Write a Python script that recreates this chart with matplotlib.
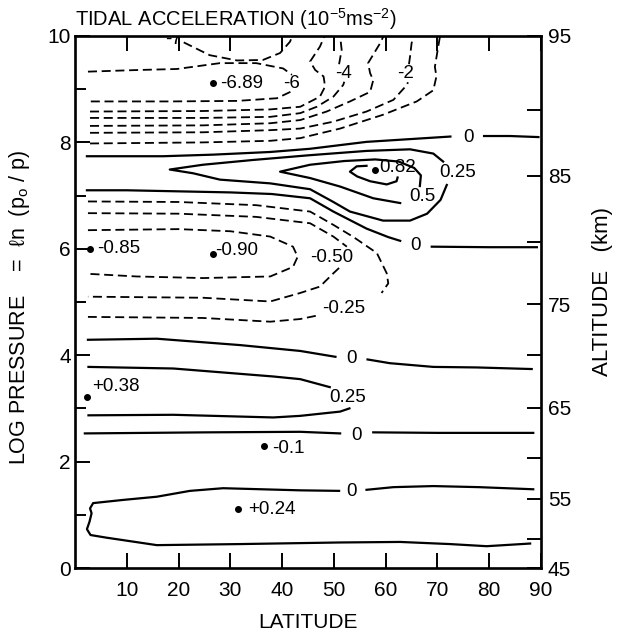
import matplotlib
matplotlib.use("Agg")
import matplotlib.pyplot as plt

plt.rcParams['font.family'] = ['Liberation Sans', 'DejaVu Sans']
plt.rcParams['mathtext.default'] = 'regular'

# contour lines: (latitude, log pressure), split where a label cuts them
# negative values (dashed)
m7_lat = [21.0, 26.0, 31.3, 36.3, 39.6, 41.5, 42.0]
m7_p = [9.88, 9.64, 9.54, 9.55, 9.68, 9.89, 10.0]

m6a_lat = [2.5, 11.9, 19.7, 28.0, 35.0, 40.2, 41.9]
m6a_p = [9.33, 9.36, 9.38, 9.49, 9.49, 9.39, 9.27]
m6b_lat = [41.6, 39.0, 31.3, 18.3, 2.9]
m6b_p = [8.95, 8.83, 8.78, 8.77, 8.77]

m5_lat = [2.9, 24.7, 37.7, 43.5, 47.3, 48.3, 48.0, 46.4, 45.4, 47.3, 48.2]
m5_p = [8.58, 8.59, 8.62, 8.67, 8.86, 9.05, 9.24, 9.36, 9.52, 9.80, 10.0]

m4a_lat = [2.9, 24.7, 37.7, 43.5, 46.7, 49.9, 51.8, 52.0]
m4a_p = [8.46, 8.46, 8.48, 8.55, 8.67, 8.86, 9.08, 9.14]
m4b_lat = [51.0, 51.5, 51.2]
m4b_p = [9.47, 9.74, 10.0]

m3_lat = [2.9, 24.7, 37.7, 43.5, 48.6, 53.1, 57.0, 57.6, 57.0, 56.6, 58.9, 59.6]
m3_p = [8.31, 8.32, 8.36, 8.42, 8.58, 8.77, 8.95, 9.17, 9.30, 9.49, 9.86, 10.0]

m2a_lat = [2.9, 24.7, 37.7, 43.5, 49.9, 56.3, 61.5, 64.1, 64.3]
m2a_p = [8.18, 8.19, 8.23, 8.26, 8.39, 8.58, 8.80, 9.08, 9.13]
m2b_lat = [64.5, 64.7, 65.0, 65.3]
m2b_p = [9.47, 9.61, 9.86, 10.0]

m1_lat = [2.9, 24.7, 37.7, 43.5, 51.2, 59.5, 66.0, 69.2, 69.8, 69.5, 70.2, 70.5]
m1_p = [7.98, 8.00, 8.03, 8.08, 8.26, 8.52, 8.77, 8.98, 9.24, 9.42, 9.83, 10.0]

m025a_lat = [2.5, 20.0, 35.0, 45.4, 49.9, 53.8, 58.3, 60.2, 60.5, 59.2]
m025a_p = [6.89, 6.88, 6.82, 6.70, 6.45, 6.22, 5.92, 5.54, 5.35, 5.17]
m025b_lat = [46.5, 43.5, 37.7, 24.7, 2.5]
m025b_p = [4.74, 4.68, 4.63, 4.70, 4.72]

m050a_lat = [2.5, 20.0, 35.0, 45.4, 49.9, 52.5]
m050a_p = [6.67, 6.66, 6.60, 6.48, 6.23, 6.04]
m050b_lat = [51.0, 49.9, 47.3, 43.5, 37.7, 24.7, 2.5]
m050b_p = [5.64, 5.54, 5.29, 5.17, 5.01, 5.08, 5.10]

m075_lat = [2.5, 20.0, 30.0, 37.7, 42.1, 43.0, 42.1, 37.7, 24.7, 11.9, 2.5]
m075_p = [6.35, 6.37, 6.33, 6.23, 6.04, 5.85, 5.66, 5.48, 5.45, 5.48, 5.53]

# zero and positive values (solid)
z8a_lat = [2.3, 17.0, 26.7, 37.7, 45.4, 56.3, 72.5]
z8a_p = [7.74, 7.74, 7.77, 7.82, 7.88, 8.01, 8.11]
z8b_lat = [79.0, 84.0, 89.5]
z8b_p = [8.12, 8.12, 8.10]

p025u_lat = [71.1, 69.2, 64.7, 56.3, 45.4, 34.4, 24.7, 18.3, 22.8, 28.0, 37.7, 45.4,
             49.9, 53.1, 59.5, 64.7, 68.0, 70.6, 71.8]
p025u_p = [7.64, 7.79, 7.87, 7.84, 7.76, 7.67, 7.58, 7.49, 7.42, 7.30, 7.23, 7.12,
           6.88, 6.70, 6.53, 6.53, 6.66, 6.92, 7.20]

p050a_lat = [66.6, 66.8, 65.5, 62.5, 58.0, 52.0, 45.4, 39.6, 45.4, 51.2, 57.6, 62.8]
p050a_p = [7.18, 7.38, 7.52, 7.64, 7.68, 7.65, 7.58, 7.45, 7.33, 7.17, 6.95, 6.86]

p075_lat = [56.3, 54.4, 53.1, 54.5, 57.0, 60.2, 62.1, 62.3]
p075_p = [7.56, 7.55, 7.45, 7.36, 7.27, 7.21, 7.27, 7.34]

z7a_lat = [2.3, 10.0, 20.0, 30.0, 38.0, 45.4, 49.9, 56.3, 60.5, 62.8]
z7a_p = [7.10, 7.10, 7.08, 7.06, 7.03, 6.95, 6.70, 6.38, 6.22, 6.15]
z7b_lat = [68.9, 80.0, 89.2]
z7b_p = [6.04, 6.03, 6.03]

z4a_lat = [2.5, 15.8, 31.9, 43.5, 50.3]
z4a_p = [4.29, 4.31, 4.19, 4.08, 3.97]
z4b_lat = [56.5, 60.8, 69.2, 77.6, 88.2]
z4b_p = [3.92, 3.85, 3.78, 3.77, 3.74]

p025la_lat = [2.6, 19.0, 38.3, 43.5, 49.2]
p025la_p = [3.78, 3.75, 3.60, 3.55, 3.40]
p025lb_lat = [53.0, 51.2, 43.5, 38.3, 19.0, 2.6]
p025lb_p = [3.00, 2.94, 2.86, 2.83, 2.88, 2.87]

z25a_lat = [1.9, 25.4, 43.5, 51.2]
z25a_p = [2.53, 2.55, 2.56, 2.53]
z25b_lat = [57.6, 70.0, 88.5]
z25b_p = [2.55, 2.54, 2.54]

z1a_lat = [51.0, 43.5, 28.6, 22.2, 15.8, 9.3, 3.5, 2.9, 3.2, 2.8, 2.3, 3.0, 6.1,
           15.8, 31.9, 51.2, 62.8, 72.4, 79.5, 87.9]
z1a_p = [1.45, 1.46, 1.50, 1.45, 1.34, 1.28, 1.22, 1.12, 1.03, 0.87, 0.73, 0.62, 0.57,
         0.43, 0.45, 0.48, 0.49, 0.45, 0.41, 0.46]
z1b_lat = [56.3, 61.5, 69.2, 78.0, 88.5]
z1b_p = [1.47, 1.52, 1.54, 1.52, 1.48]

dashed = [(m7_lat, m7_p), (m6a_lat, m6a_p), (m6b_lat, m6b_p), (m5_lat, m5_p),
          (m4a_lat, m4a_p), (m4b_lat, m4b_p), (m3_lat, m3_p), (m2a_lat, m2a_p),
          (m2b_lat, m2b_p), (m1_lat, m1_p), (m025a_lat, m025a_p), (m025b_lat, m025b_p),
          (m050a_lat, m050a_p), (m050b_lat, m050b_p), (m075_lat, m075_p)]
solid = [(z8a_lat, z8a_p), (z8b_lat, z8b_p), (p025u_lat, p025u_p), (p050a_lat, p050a_p),
         (p075_lat, p075_p), (z7a_lat, z7a_p), (z7b_lat, z7b_p), (z4a_lat, z4a_p),
         (z4b_lat, z4b_p), (p025la_lat, p025la_p), (p025lb_lat, p025lb_p),
         (z25a_lat, z25a_p), (z25b_lat, z25b_p), (z1a_lat, z1a_p), (z1b_lat, z1b_p)]

# contour labels (lat, logp, text)
label_lat = [19.0, 41.9, 51.9, 63.8, 75.9, 73.8, 67.0, 65.8, 49.5, 51.8, 53.4, 52.6, 54.4, 53.4]
label_p = [9.93, 9.11, 9.30, 9.30, 8.09, 7.43, 6.98, 6.06, 5.83, 4.87, 3.94, 3.20, 2.50, 1.43]
label_txt = ['-7', '-6', '-4', '-2', '0', '0.25', '0.5', '0', '-0.50', '-0.25', '0', '0.25', '0', '0']

# extrema dots
ext_lat = [26.7, 57.9, 2.9, 26.6, 2.3, 36.5, 31.4]
ext_p = [9.11, 7.49, 5.99, 5.90, 3.22, 2.30, 1.10]
ext_txt = ['-6.89', '0.82', '-0.85', '-0.90', '+0.38', '-0.1', '+0.24']
ext_dx = [1.4, 0.9, 1.3, 0.5, 1.0, 1.6, 2.0]
ext_dy = [0.0, 0.03, 0.02, 0.07, 0.20, -0.06, 0.0]

# right axis: altitude (km) against log pressure
alt_km = [45, 50, 55, 60, 65, 70, 75, 80, 85, 90, 95]
alt_logp = [0.0, 0.55, 1.30, 2.07, 3.01, 4.00, 4.96, 6.13, 7.37, 8.61, 10.0]

fig = plt.figure(figsize=(6.23, 6.36), dpi=100)
ax = fig.add_axes([0.1204, 0.1069, 0.748, 0.8365])

for lat, p in dashed:
    ax.plot(lat, p, color='black', lw=1.3, ls=(0, (5, 2.6)))
for lat, p in solid:
    ax.plot(lat, p, color='black', lw=1.6)

for x, y, t in zip(label_lat, label_p, label_txt):
    ax.text(x, y, t, ha='center', va='center', fontsize=13.5, clip_on=True)

ax.plot(ext_lat, ext_p, 'o', color='black', ms=4)
for x, y, t, dx, dy in zip(ext_lat, ext_p, ext_txt, ext_dx, ext_dy):
    ax.text(x + dx, y + dy, t, ha='left', va='center', fontsize=13.5)

ax.set_xlim(0, 90)
ax.set_ylim(0, 10)
ax.set_xticks(range(10, 100, 10))
ax.set_yticks(range(0, 11, 2))
ax.set_yticks(range(1, 10, 2), minor=True)
ax.tick_params(direction='in', length=11, width=1.4, labelsize=15, top=True)
ax.tick_params(axis='x', pad=9)
ax.tick_params(axis='y', pad=3)
ax.tick_params(axis='y', which='minor', direction='in', length=8, width=1.4)
for s in ax.spines.values():
    s.set_linewidth(1.9)

ax2 = ax.twinx()
ax2.set_ylim(0, 10)
ax2.set_yticks(alt_logp)
ax2.set_yticklabels([str(a) if a % 10 == 5 else '' for a in alt_km])
ax2.tick_params(direction='in', length=10, width=1.4, labelsize=15, pad=5)

ax.set_xlabel('LATITUDE', fontsize=15)
ax.xaxis.set_label_coords(0.5, -0.085)
ax.set_ylabel(r'LOG PRESSURE    =  $\ell$n  (p$_o$ / p)', fontsize=15.5)
ax.yaxis.set_label_coords(-0.093, 0.49)
ax2.set_ylabel('ALTITUDE   (km)', fontsize=16)
ax2.yaxis.set_label_coords(1.11, 0.52)
ax.set_title(r'TIDAL ACCELERATION (10$^{-5}$ms$^{-2}$)', loc='left', fontsize=14.5, pad=7)

fig.savefig('out.png', dpi=100, facecolor='white')
